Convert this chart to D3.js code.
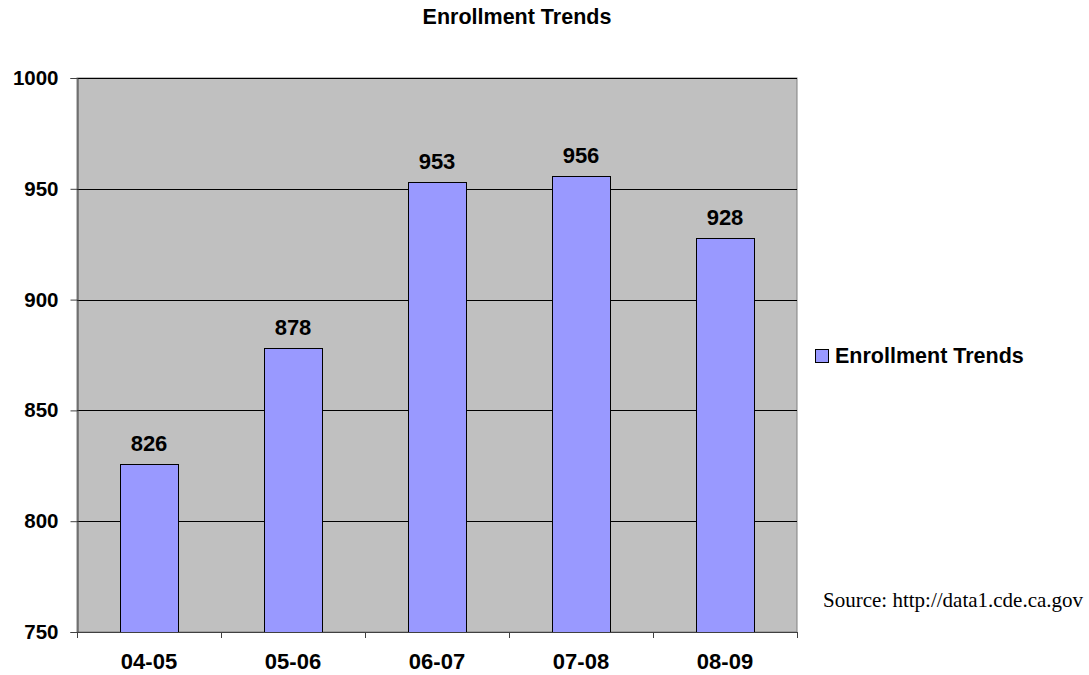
<!DOCTYPE html>
<html><head><meta charset="utf-8">
<script src="https://cdn.jsdelivr.net/npm/d3@7"></script>
<style>body{margin:0;background:#fff;} text{font-family:"Liberation Sans",Arial,sans-serif;}</style>
</head><body>
<svg id="c" width="1089" height="675"></svg>
<script>
const categories = ["04-05","05-06","06-07","07-08","08-09"];
const values = [826, 878, 953, 956, 928];
const yTicks = [750, 800, 850, 900, 950, 1000];
const seriesName = "Enrollment Trends";
const titleText = "Enrollment Trends";
const sourceText = "Source: http://data1.cde.ca.gov";

const svg = d3.select("#c");
const L = 77, R = 797, T = 78, B = 632;
const x = d3.scaleBand().domain(categories).range([L, R]).paddingInner(0.6).paddingOuter(0.3);
const y = d3.scaleLinear().domain([750, 1000]).range([B, T]);

svg.append("rect").attr("x", L).attr("y", T).attr("width", R - L).attr("height", B - T)
  .attr("fill", "#c0c0c0").attr("stroke", "#808080").attr("stroke-width", 1);

// gridlines
svg.append("g").selectAll("line").data(yTicks.slice(1)).join("line")
  .attr("x1", L).attr("x2", R).attr("y1", d => Math.round(y(d)) + 0.5).attr("y2", d => Math.round(y(d)) + 0.5)
  .attr("stroke", "#000").attr("stroke-width", 1);

// bars
svg.append("g").selectAll("rect").data(values).join("rect")
  .attr("x", (d, i) => Math.round(x(categories[i])) + 0.5)
  .attr("y", d => Math.round(y(d)) + 0.5)
  .attr("width", Math.round(x.bandwidth()))
  .attr("height", d => B - Math.round(y(d)))
  .attr("fill", "#9999ff").attr("stroke", "#000").attr("stroke-width", 1);

// data labels
svg.append("g").selectAll("text").data(values).join("text")
  .attr("x", (d, i) => x(categories[i]) + x.bandwidth() / 2)
  .attr("y", d => y(d) - 13)
  .attr("text-anchor", "middle").attr("font-size", 22).attr("font-weight", "bold")
  .text(d => d);

// y axis
const yAxis = d3.axisLeft(y).tickValues(yTicks).tickSize(7).tickPadding(12).tickFormat(d3.format("d"));
const gy = svg.append("g").attr("transform", `translate(${L + 0.5},0)`).call(yAxis);
gy.select(".domain").attr("stroke", "#404040");
gy.selectAll(".tick line").attr("stroke", "#404040");
gy.selectAll(".tick text").attr("font-size", 20.5).attr("font-weight", "bold").attr("fill", "#000")
  .style("font-family", "Liberation Sans, Arial, sans-serif");

// x axis with ticks at category boundaries
const xb = d3.scaleLinear().domain([0, categories.length]).range([L, R]);
svg.append("line").attr("x1", L).attr("x2", R).attr("y1", B + 0.5).attr("y2", B + 0.5).attr("stroke", "#404040");
svg.append("g").selectAll("line").data(d3.range(categories.length + 1)).join("line")
  .attr("x1", d => Math.round(xb(d)) + 0.5).attr("x2", d => Math.round(xb(d)) + 0.5)
  .attr("y1", B).attr("y2", B + 6).attr("stroke", "#404040");
svg.append("g").selectAll("text").data(categories).join("text")
  .attr("x", d => x(d) + x.bandwidth() / 2).attr("y", B + 37)
  .attr("text-anchor", "middle").attr("font-size", 22).attr("font-weight", "bold")
  .text(d => d);

// title
svg.append("text").attr("x", 517).attr("y", 24).attr("text-anchor", "middle")
  .attr("font-size", 21.5).attr("font-weight", "bold").text(titleText);

// legend
svg.append("rect").attr("x", 815.5).attr("y", 349.5).attr("width", 13).attr("height", 13)
  .attr("fill", "#9999ff").attr("stroke", "#000");
svg.append("text").attr("x", 835).attr("y", 362.5).attr("font-size", 21.5).attr("font-weight", "bold").text(seriesName);

// source
svg.append("text").attr("x", 823).attr("y", 607).attr("font-size", 21)
  .style("font-family", "Liberation Serif, Times New Roman, serif").text(sourceText);
</script>
</body></html>
